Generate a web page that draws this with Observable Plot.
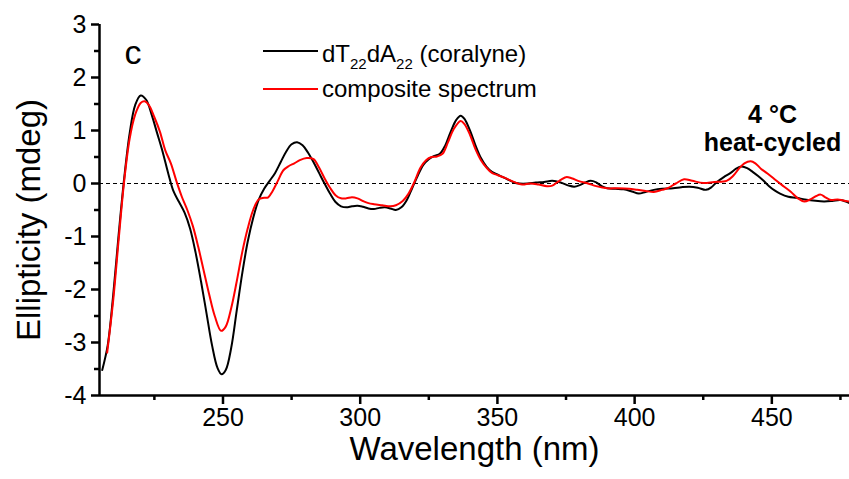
<!DOCTYPE html>
<html><head><meta charset="utf-8">
<script src="https://cdn.jsdelivr.net/npm/d3@7"></script>
<script src="https://cdn.jsdelivr.net/npm/@observablehq/plot@0.6"></script>
<style>html,body{margin:0;padding:0;background:#fff}svg{display:block}</style>
</head><body><div id="chart"></div>
<script>
// Series 1: dT22dA22 (coralyne)  (wavelength nm, ellipticity mdeg)
const wlBlack = [206,208,210,212,214,216,218,220,222,224,226,228,230,232,234,236,238,240,242,244,246,248,249.5,251,253,255,257,259,261,263,265,267,269,271,273,275,277,279,281,283,285,287,289,291,293,295,297,299,301,303,305,307,309,311,313,315,317,319,321,323,325,327,329,331,333,335,336.6,338,340,342,344,346,348,350,352,354,356,358,361,364,367,370,373,376,378,380,382,384,386,388,390,393,396,399,401.5,404,407,410,414,417,420,423,426,428,430,432.5,435,437,439,441,443,445,447,449,451,453,456,459,462,465,469,472,475,478.3];
const ellBlack = [-3.52,-3.05,-2.1,-0.95,0.1,0.95,1.48,1.66,1.58,1.3,0.95,0.6,0.2,-0.15,-0.35,-0.55,-0.85,-1.3,-1.85,-2.45,-3.05,-3.48,-3.6,-3.52,-3.1,-2.4,-1.7,-1.1,-0.65,-0.31,-0.1,0.05,0.2,0.4,0.6,0.74,0.78,0.72,0.58,0.4,0.2,0.0,-0.19,-0.35,-0.43,-0.45,-0.43,-0.42,-0.44,-0.47,-0.48,-0.46,-0.45,-0.47,-0.5,-0.45,-0.31,-0.08,0.15,0.35,0.46,0.52,0.56,0.72,0.98,1.2,1.28,1.22,1.0,0.72,0.48,0.32,0.22,0.17,0.12,0.07,0.02,0.0,0.0,0.02,0.03,0.05,0.02,-0.04,-0.06,-0.03,0.02,0.05,0.02,-0.05,-0.09,-0.1,-0.11,-0.15,-0.19,-0.16,-0.12,-0.1,-0.09,-0.07,-0.06,-0.08,-0.12,-0.07,0.03,0.12,0.2,0.28,0.32,0.29,0.22,0.14,0.05,-0.05,-0.13,-0.19,-0.25,-0.27,-0.3,-0.32,-0.34,-0.33,-0.31,-0.37];
// Series 2: composite spectrum
const wlRed = [207.8,210,212,214,216,218,220,221.5,223,225,227,229,231,233,235,237,239,241,243,245,247,249.3,251,253,255,257,259,261,263,265,266.5,268,270,272,274,276,278,280.5,283,285,287,289,291,293,295,297,299,301,303,305,308,311,313,315.5,317.5,319.5,322,324,326,328,330,332,334,336.6,338,340,342,344,346,348,350,353,356,359,362,365,368,370,372,375,377,380,383,386,390,394,398,401,404,407,410,412,415,418,421,425,429,433.5,436,438,440,442.3,444,446,448.4,451,454.5,457,459.5,461.8,464,466,467.8,469.5,471.5,474,476,478.3];
const ellRed = [-3.19,-2.2,-1.05,0.05,0.85,1.3,1.52,1.55,1.48,1.25,0.98,0.62,0.38,0.05,-0.25,-0.5,-0.8,-1.2,-1.65,-2.1,-2.5,-2.78,-2.7,-2.35,-1.85,-1.3,-0.85,-0.5,-0.3,-0.27,-0.26,-0.15,0.05,0.25,0.33,0.38,0.44,0.48,0.46,0.3,0.1,-0.08,-0.22,-0.28,-0.28,-0.26,-0.28,-0.33,-0.37,-0.39,-0.41,-0.43,-0.41,-0.33,-0.2,0.0,0.3,0.44,0.5,0.51,0.56,0.78,1.02,1.18,1.12,0.92,0.65,0.44,0.3,0.2,0.16,0.1,0.03,-0.02,0.0,-0.02,-0.05,-0.04,0.03,0.12,0.1,0.04,0.0,-0.05,-0.09,-0.09,-0.1,-0.12,-0.14,-0.16,-0.12,-0.09,0.0,0.08,0.05,0.01,0.03,0.05,0.15,0.28,0.38,0.42,0.38,0.28,0.19,0.08,-0.06,-0.16,-0.28,-0.34,-0.3,-0.24,-0.21,-0.26,-0.31,-0.3,-0.32,-0.34];

const seriesNames = ["dT22dA22 (coralyne)", "composite spectrum"];
const seriesColors = ["#000000", "#ff0000"];
const xTicks = [250, 300, 350, 400, 450];
const xMinorTicks = [225, 275, 325, 375, 425, 475];
const yTicks = [-4, -3, -2, -1, 0, 1, 2, 3];
const yMinorTicks = [-3.5, -2.5, -1.5, -0.5, 0.5, 1.5, 2.5];
const xTitle = "Wavelength (nm)";
const yTitle = "Ellipticity (mdeg)";
const panelLabel = "c";
const annotation = ["4 °C", "heat-cycled"];

const black = wlBlack.map((x, i) => ({x, y: ellBlack[i]}));
const red = wlRed.map((x, i) => ({x, y: ellRed[i]}));
const font = "'Liberation Sans', Arial, Helvetica, sans-serif";

const plot = Plot.plot({
  width: 849, height: 479,
  marginLeft: 99, marginRight: 0, marginTop: 24, marginBottom: 84,
  style: {fontFamily: font, fontSize: "25px", color: "black", background: "white", overflow: "visible"},
  x: {domain: [205, 478.3]},
  y: {domain: [-4, 3]},
  marks: [
    Plot.ruleY([0], {stroke: "black", strokeWidth: 1, strokeDasharray: "4,3"}),
    Plot.line(black, {x: "x", y: "y", stroke: seriesColors[0], strokeWidth: 2, curve: "catmull-rom"}),
    Plot.line(red, {x: "x", y: "y", stroke: seriesColors[1], strokeWidth: 2, curve: "catmull-rom"}),
    Plot.axisX({ticks: xTicks, tickSize: 9, tickPadding: 4, strokeWidth: 2.5, fontSize: 25, tickFormat: d => String(d), label: null}),
    Plot.axisX({ticks: xMinorTicks, tickSize: 5, strokeWidth: 2.5, text: null, label: null}),
    Plot.axisY({ticks: yTicks, tickSize: 8, tickPadding: 5, strokeWidth: 2.5, fontSize: 25, tickFormat: d => String(d), label: null}),
    Plot.axisY({ticks: yMinorTicks, tickSize: 5, strokeWidth: 2.5, text: null, label: null}),
    Plot.ruleX([205], {stroke: "black", strokeWidth: 2.5}),
    Plot.ruleY([-4], {stroke: "black", strokeWidth: 2.5}),
    Plot.text([xTitle], {frameAnchor: "bottom", textAnchor: "middle", dy: 64, fontSize: 33, fill: "black"}),
    Plot.text([yTitle], {frameAnchor: "left", textAnchor: "middle", rotate: -90, dx: -70, dy: 10, fontSize: 33, fill: "black"}),
    Plot.text([panelLabel], {frameAnchor: "top-left", textAnchor: "start", dx: 25, dy: 15, fontSize: 34, fill: "black"}),
    Plot.text([annotation[0]], {frameAnchor: "top-right", textAnchor: "middle", dx: -77, dy: 81, fontSize: 25, fontWeight: "bold", fill: "black"}),
    Plot.text([annotation[1]], {frameAnchor: "top-right", textAnchor: "middle", dx: -77, dy: 109, fontSize: 25, fontWeight: "bold", fill: "black"})
  ]
});
document.getElementById("chart").appendChild(plot);

// Legend (inside plot, with subscripts)
const svg = d3.select(plot);
const lg = svg.append("g").attr("font-family", font).attr("font-size", 24).attr("fill", "black").attr("text-anchor", "start");
const legendRows = [{y: 51, base: 62}, {y: 89, base: 97}];
legendRows.forEach((r, i) => {
  lg.append("line").attr("x1", 263).attr("x2", 318).attr("y1", r.y).attr("y2", r.y)
    .attr("stroke", seriesColors[i]).attr("stroke-width", 2);
});
const t1 = lg.append("text").attr("x", 322).attr("y", legendRows[0].base).attr("text-anchor", "start");
const parts = seriesNames[0].match(/^dT(\d+)dA(\d+)(.*)$/);
t1.append("tspan").text("dT");
t1.append("tspan").attr("font-size", 15).attr("dy", 7).text(parts[1]);
t1.append("tspan").attr("dy", -7).text("dA");
t1.append("tspan").attr("font-size", 15).attr("dy", 7).text(parts[2]);
t1.append("tspan").attr("dy", -7).text(parts[3]);
lg.append("text").attr("x", 322).attr("y", legendRows[1].base).attr("text-anchor", "start").text(seriesNames[1]);
</script>
</body></html>
